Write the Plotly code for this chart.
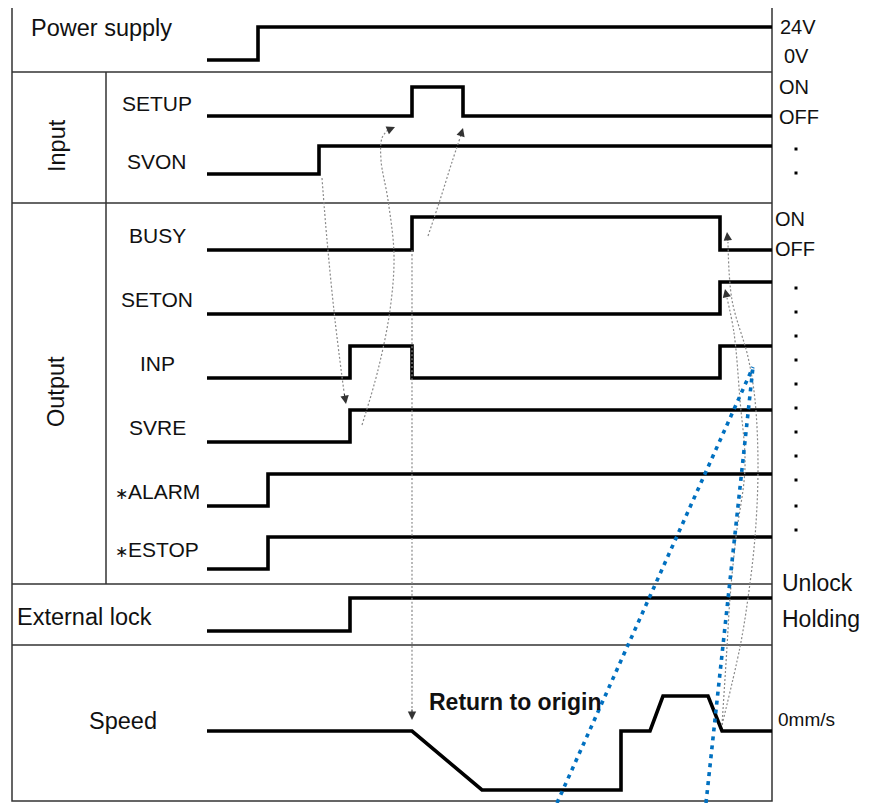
import plotly.graph_objects as go

# ---- data: signal transitions (time axis in drawing units) ----
t_begin, t_end = 207, 772

power_edges = [258]
setup_edges = [412, 463]
svon_edges = [319]
busy_edges = [412, 720]
seton_edges = [720]
inp_edges = [350, 412, 720]
svre_edges = [350]
alarm_edges = [268]
estop_edges = [268]
lock_edges = [350]

speed_t = [207, 412, 482, 621, 621, 650, 663, 708, 722, 772]
speed_v = [0, 0, -59, -59, 0, 0, 35, 35, 0, 0]

# row name, edges, low-level y, swing
rows = [
    ("Power supply", power_edges, 60, 33),
    ("SETUP", setup_edges, 116, 29),
    ("SVON", svon_edges, 174, 28),
    ("BUSY", busy_edges, 250, 33),
    ("SETON", seton_edges, 314, 32),
    ("INP", inp_edges, 378, 32),
    ("SVRE", svre_edges, 442, 32),
    ("<span style='font-size:16px'>∗</span>ALARM", alarm_edges, 506, 32),
    ("<span style='font-size:16px'>∗</span>ESTOP", estop_edges, 569, 32),
    ("External lock", lock_edges, 631, 33),
]
speed_base = 731

FONT = "Liberation Sans, Arial, sans-serif"
fig = go.Figure()

# step signals
for name, edges, low, swing in rows:
    xs = [t_begin] + edges + [t_end]
    lv = [0]
    for i in range(len(edges)):
        lv.append(1 - lv[-1])
    lv.append(lv[-1])
    ys = [low - swing * v for v in lv]
    fig.add_trace(go.Scatter(x=xs, y=ys, mode="lines", line=dict(color="black", width=3.6, shape="hv"),
                             hoverinfo="skip", showlegend=False))

# speed profile
fig.add_trace(go.Scatter(x=speed_t, y=[speed_base - v for v in speed_v], mode="lines",
                         line=dict(color="black", width=3.6), hoverinfo="skip", showlegend=False))

# gray dotted cause/effect arrows
arrows = [
    [(322, 178), (327, 240), (335, 320), (344, 392), (346, 404)],
    [(362, 425), (378, 370), (390, 310), (394, 255), (388, 200), (381, 160), (382, 138), (388, 130), (395, 127)],
    [(428, 236), (440, 200), (452, 162), (460, 138), (463, 128)],
    [(412, 250), (412, 500), (412, 708), (412, 720)],
    [(722, 725), (740, 647), (748, 598), (755, 537), (758, 467), (755, 400), (748, 357), (732, 300), (728, 242), (727, 232)],
    [(722, 725), (727, 647), (730, 598), (736, 537), (745, 467), (740, 400), (734, 333), (727, 298), (725, 289)],
]
for pts in arrows:
    fig.add_trace(go.Scatter(x=[p[0] for p in pts[:-1]], y=[p[1] for p in pts[:-1]], mode="lines",
                             line=dict(color="#8a8a8a", width=1.2, dash="2px,2px", shape="spline"),
                             hoverinfo="skip", showlegend=False))
    fig.add_annotation(x=pts[-1][0], y=pts[-1][1], ax=pts[-2][0], ay=pts[-2][1], xref="x", yref="y",
                       axref="x", ayref="y", text="", showarrow=True, arrowhead=2, arrowsize=1.4,
                       arrowwidth=1.2, arrowcolor="#333", standoff=0)

# blue dotted markup lines
blue_lines = [[(557, 803), (753, 367)], [(706, 803), (753, 367)]]
for seg in blue_lines:
    fig.add_trace(go.Scatter(x=[p[0] for p in seg], y=[p[1] for p in seg], mode="lines",
                             line=dict(color="#0070c0", width=3.6, dash="4px,5px"),
                             hoverinfo="skip", showlegend=False))

# frame
L, R, T, B = 12, 772, 5, 801
frame = dict(color="#333", width=1.5)
shapes = [dict(type="rect", x0=L, x1=R, y0=T, y1=B, line=frame)]
for yy in [72, 203, 584, 645]:
    shapes.append(dict(type="line", x0=L, x1=R, y0=yy, y1=yy, line=frame))
shapes.append(dict(type="line", x0=106, x1=106, y0=72, y1=584, line=frame))
for s in shapes:
    s.update(xref="x", yref="y", layer="below")

# labels
def label(x, y, text, size, anchor="center", angle=0, bold=False, color="#111"):
    fig.add_annotation(x=x, y=y, xref="x", yref="y", text=("<b>%s</b>" % text) if bold else text,
                       showarrow=False, xanchor=anchor, yanchor="middle", textangle=angle,
                       font=dict(family=FONT, size=size, color=color))

label(29, 28, "Power supply", 23.5, "left")
label(57, 146, "Input", 23.5, angle=-90)
label(56, 392, "Output", 23.5, angle=-90)
label(15, 617, "External lock", 23.5, "left")
label(123, 721, "Speed", 23.5)
sig_y = [103, 161, 235, 299, 363, 427, 491, 549]
for (name, _, _, _), yy in zip(rows[1:9], sig_y):
    label(157, yy, name, 21)
label(427, 702, "Return to origin", 23, "left", bold=True)

label(778, 27, "24V", 20, "left")
label(782, 56, "0V", 20, "left")
label(777, 87, "ON", 20, "left")
label(777, 117, "OFF", 20, "left")
label(773, 219, "ON", 20, "left")
label(773, 249, "OFF", 20, "left")
label(780, 583, "Unlock", 23, "left")
label(780, 619, "Holding", 23, "left")
label(776, 719, "0mm/s", 19, "left")

dot_y = [149, 173, 288, 312, 336, 360, 384, 408, 432, 456, 480, 506, 530]
fig.add_trace(go.Scatter(x=[796] * len(dot_y), y=dot_y, mode="markers",
                         marker=dict(color="black", size=3, symbol="square"),
                         hoverinfo="skip", showlegend=False))

# the page body has an 8px margin, so shift the view by 8 units
fig.update_layout(width=880, height=803, margin=dict(l=0, r=0, t=0, b=0),
                  plot_bgcolor="white", paper_bgcolor="white", shapes=shapes,
                  xaxis=dict(range=[8, 888], visible=False, fixedrange=True),
                  yaxis=dict(range=[811, 8], visible=False, fixedrange=True))
fig.write_html("out.html")
